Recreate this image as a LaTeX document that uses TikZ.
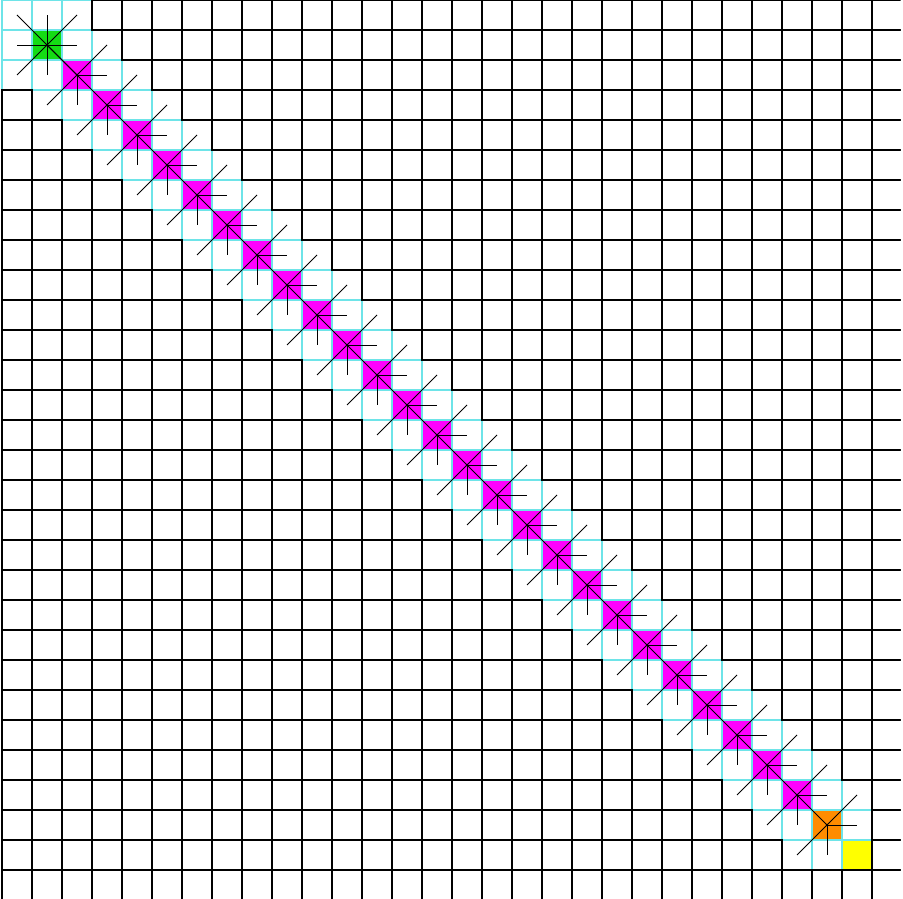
\documentclass[tikz,border=0pt]{standalone}
\usetikzlibrary{calc}
\definecolor{cyanline}{RGB}{110,228,232}
\definecolor{startgreen}{RGB}{20,220,20}
\definecolor{pathmag}{RGB}{255,0,255}
\definecolor{curorange}{RGB}{255,140,0}
\definecolor{goalyellow}{RGB}{255,255,0}
\tikzset{
  cyancell/.style={draw=cyanline, line width=2pt},
  blackcell/.style={draw=black, line width=2.2pt},
  ray/.style={draw=black, line width=0.9pt},
  centerdot/.style={fill=black},
}
\begin{document}
\begin{tikzpicture}[x=1pt,y=-1pt]
\useasboundingbox (0,0) rectangle (903,899);
\fill[white] (0,0) rectangle (903,899);
\begin{scope}
\clip (1.2,1.0) rectangle (900.6,899);
% special cells fills
\fill[startgreen] (32,30) rectangle (62,60);
\foreach \k in {2,...,26}{
  \fill[pathmag] (2+30*\k,30*\k) rectangle (32+30*\k,30*\k+30);
}
\fill[curorange] (2+30*27,30*27) rectangle (32+30*27,30*27+30);
\fill[goalyellow] (2+30*28,30*28) rectangle (32+30*28,30*28+30);
% cyan (opened) cells
\foreach \i in {0,...,28}{
  \foreach \j in {0,...,28}{
    \pgfmathtruncatemacro\dd{abs(\i-\j)}
    \ifnum\dd<3
      \draw[cyancell] (2+30*\i,30*\j) rectangle (32+30*\i,30*\j+30);
    \fi
  }
}
% black (untouched) cells
\foreach \i in {0,...,29}{
  \foreach \j in {0,...,29}{
    \pgfmathtruncatemacro\dd{abs(\i-\j)}
    \pgfmathtruncatemacro\mx{max(\i,\j)}
    \ifnum\dd>2
      \draw[blackcell] (2+30*\i,30*\j) rectangle (32+30*\i,30*\j+30);
    \else\ifnum\mx>28
      \draw[blackcell] (2+30*\i,30*\j) rectangle (32+30*\i,30*\j+30);
    \fi\fi
  }
}
\end{scope}
% centres of expanded cells
\foreach \k in {1,...,27}{
  \coordinate (c\k) at (17+30*\k,30*\k+15);
}
% start: eight rays
\foreach \dx/\dy in {30/0,-30/0,0/30,0/-30,30/30,-30/-30,30/-30,-30/30}{
  \draw[ray] (c1) -- ++(\dx,\dy);
}
% path cells and current cell
\foreach \k [evaluate=\k as \p using int(\k-1)] in {2,...,27}{
  \draw[ray] (c\k) -- (c\p);
  \draw[ray] (c\k) -- ++(30,0);
  \draw[ray] (c\k) -- ++(0,30);
  \draw[ray] (c\k) -- ++(30,-30);
  \draw[ray] (c\k) -- ++(-30,30);
}
\foreach \k in {1,...,27}{
  \fill[centerdot] (c\k) circle (1.4pt);
}
\end{tikzpicture}
\end{document}
